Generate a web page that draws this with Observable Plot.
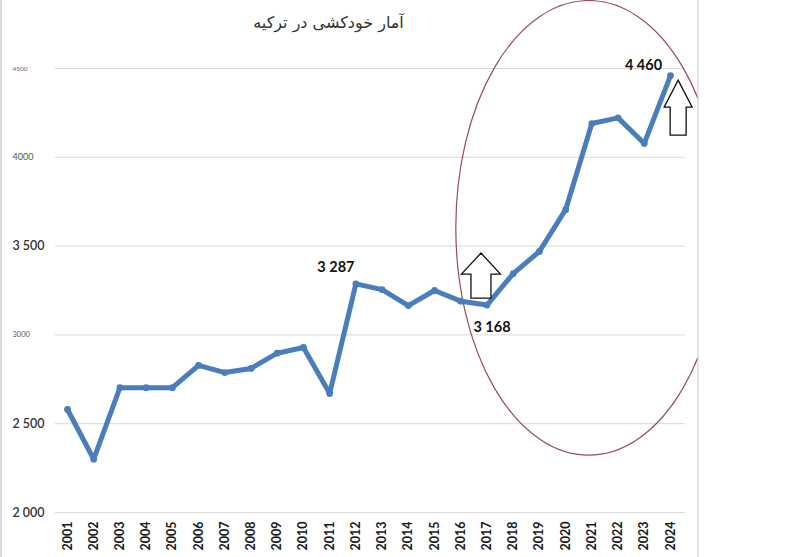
<!DOCTYPE html>
<html><head><meta charset="utf-8">
<script src="https://cdn.jsdelivr.net/npm/d3@7"></script>
<script src="https://cdn.jsdelivr.net/npm/@observablehq/plot@0.6"></script>
<style>
html,body{margin:0;padding:0;background:#fff;overflow:hidden}
#chart{width:800px;height:557px}
</style></head>
<body><div id="chart"></div>
<script>
// ---- data ----
const chartTitle = "آمار خودکشی در ترکیه";
const years = [2001,2002,2003,2004,2005,2006,2007,2008,2009,2010,2011,2012,2013,2014,2015,2016,2017,2018,2019,2020,2021,2022,2023,2024];
const suicides = [2580,2300,2703,2703,2703,2828,2788,2811,2897,2929,2670,3287,3255,3165,3250,3190,3168,3345,3470,3705,4190,4222,4078,4460];
const yTicks = [2000,2500,3000,3500,4000,4500];
const yTickLabels = ["2 000","2 500","3000","3 500","4000","4500"];
const labelYears = [2012,2017,2024];
const labelTexts = ["3 287","3 168","4 460"];
// annotation anchors (data space)
const arrowYears = [2016.79, 2024.31];
const arrowValues = [3458, 4432];
const ellipseYear = 2020.9, ellipseValue = 3600, ellipseHalfYears = 5.07, ellipseHalfValue = 1280;

// ---- build ----
const data = years.map((year, i) => ({year, value: suicides[i]}));
const labelled = labelYears.map((year, i) => ({year, value: suicides[years.indexOf(year)], text: labelTexts[i]}));
const ticks = yTicks.map((v, i) => ({value: v, text: yTickLabels[i]}));

const lineColor = "#4a7dbb";
const arrowShapes = [
  {hw: 19.5, hh: 21, sw: 10, h: 45},
  {hw: 14, hh: 27, sw: 8, h: 55}
];

function annotations(index, scales, values, dimensions) {
  const {width, height, marginRight} = dimensions;
  const g = d3.create("svg:g");
  const clipId = "ellipse-clip-area";
  g.append("clipPath").attr("id", clipId)
    .append("rect").attr("x", 0).attr("y", 0)
    .attr("width", width - marginRight).attr("height", height);
  const cx = scales.x(ellipseYear), cy = scales.y(ellipseValue);
  const rx = scales.x(ellipseYear + ellipseHalfYears) - cx;
  const ry = cy - scales.y(ellipseValue + ellipseHalfValue);
  g.append("ellipse").attr("cx", cx).attr("cy", cy).attr("rx", rx).attr("ry", ry)
    .attr("fill", "none").attr("stroke", "#9b4a55").attr("stroke-width", 1.2)
    .attr("clip-path", `url(#${clipId})`);
  // image border lines
  g.append("line").attr("x1", 1).attr("x2", 1).attr("y1", 0).attr("y2", height)
    .attr("stroke", "#cfcfcf").attr("stroke-width", 1.5);
  g.append("line").attr("x1", width - marginRight).attr("x2", width - marginRight).attr("y1", 0).attr("y2", height)
    .attr("stroke", "#d4d4d4").attr("stroke-width", 1.2);
  return g.node();
}

function arrows(index, scales) {
  const g = d3.create("svg:g");
  arrowYears.forEach((yr, i) => {
    const tx = scales.x(yr), ty = scales.y(arrowValues[i]);
    const {hw, hh, sw, h} = arrowShapes[i];
    const d = `M${tx},${ty}L${tx+hw},${ty+hh}L${tx+sw},${ty+hh}L${tx+sw},${ty+h}L${tx-sw},${ty+h}L${tx-sw},${ty+hh}L${tx-hw},${ty+hh}Z`;
    g.append("path").attr("d", d).attr("fill", "#fff").attr("stroke", "#111").attr("stroke-width", 1.3);
  });
  return g.node();
}

const bigTick = {fontSize: 12.5, fontWeight: "600", fill: "#333"};
const tickStyle = {
  "2 000": bigTick, "2 500": bigTick, "3 500": bigTick,
  "3000": {fontSize: 7.5, fontWeight: "normal", fill: "#555"},
  "4000": {fontSize: 9, fontWeight: "normal", fill: "#555"},
  "4500": {fontSize: 6.5, fontWeight: "normal", fill: "#666"}
};
const labelOffsets = [{dx: -20, dy: -17}, {dx: 5, dy: 22}, {dx: -27, dy: -10}];

const plot = Plot.plot({
  width: 800, height: 557,
  marginTop: 0, marginLeft: 1, marginRight: 102, marginBottom: 45,
  x: {domain: [2001, 2024], range: [67, 670], axis: null},
  y: {domain: [2000, 4500], range: [512, 68], axis: null},
  style: {fontFamily: "Lato, 'Open Sans', sans-serif", background: "#fff"},
  marks: [
    Plot.ruleY(yTicks, {x1: 2000.54, x2: 2024.57, stroke: "#d9d9d9", strokeWidth: 1}),
    ...ticks.map(t => Plot.text([t], {
      y: "value", text: "text", frameAnchor: "left", dx: 11, textAnchor: "start",
      fontFamily: "Lato, sans-serif", ...tickStyle[t.text]
    })),
    Plot.axisX(years, {
      anchor: "bottom", tickFormat: d => String(d), tickRotate: -90, tickSize: 0, tickPadding: 9,
      fontSize: 12.5, fontWeight: "bold", color: "#1a1a1a", label: null
    }),
    annotations,
    Plot.line(data, {x: "year", y: "value", stroke: lineColor, strokeWidth: 5, strokeLinejoin: "round", strokeLinecap: "round"}),
    Plot.dot(data, {x: "year", y: "value", r: 3.4, fill: lineColor}),
    arrows,
    ...labelled.map((d, i) => Plot.text([d], {
      x: "year", y: "value", text: "text", dx: labelOffsets[i].dx, dy: labelOffsets[i].dy,
      fontSize: 14.5, fontWeight: "bold", fill: "#111", fontFamily: "Lato, sans-serif"
    })),
    Plot.text([chartTitle], {
      frameAnchor: "top-left", dx: 327, dy: 22, textAnchor: "middle", lineAnchor: "middle",
      fontSize: 16, fill: "#333", fontFamily: "'DejaVu Sans', sans-serif"
    })
  ]
});
document.getElementById("chart").appendChild(plot);
</script>
</body></html>
